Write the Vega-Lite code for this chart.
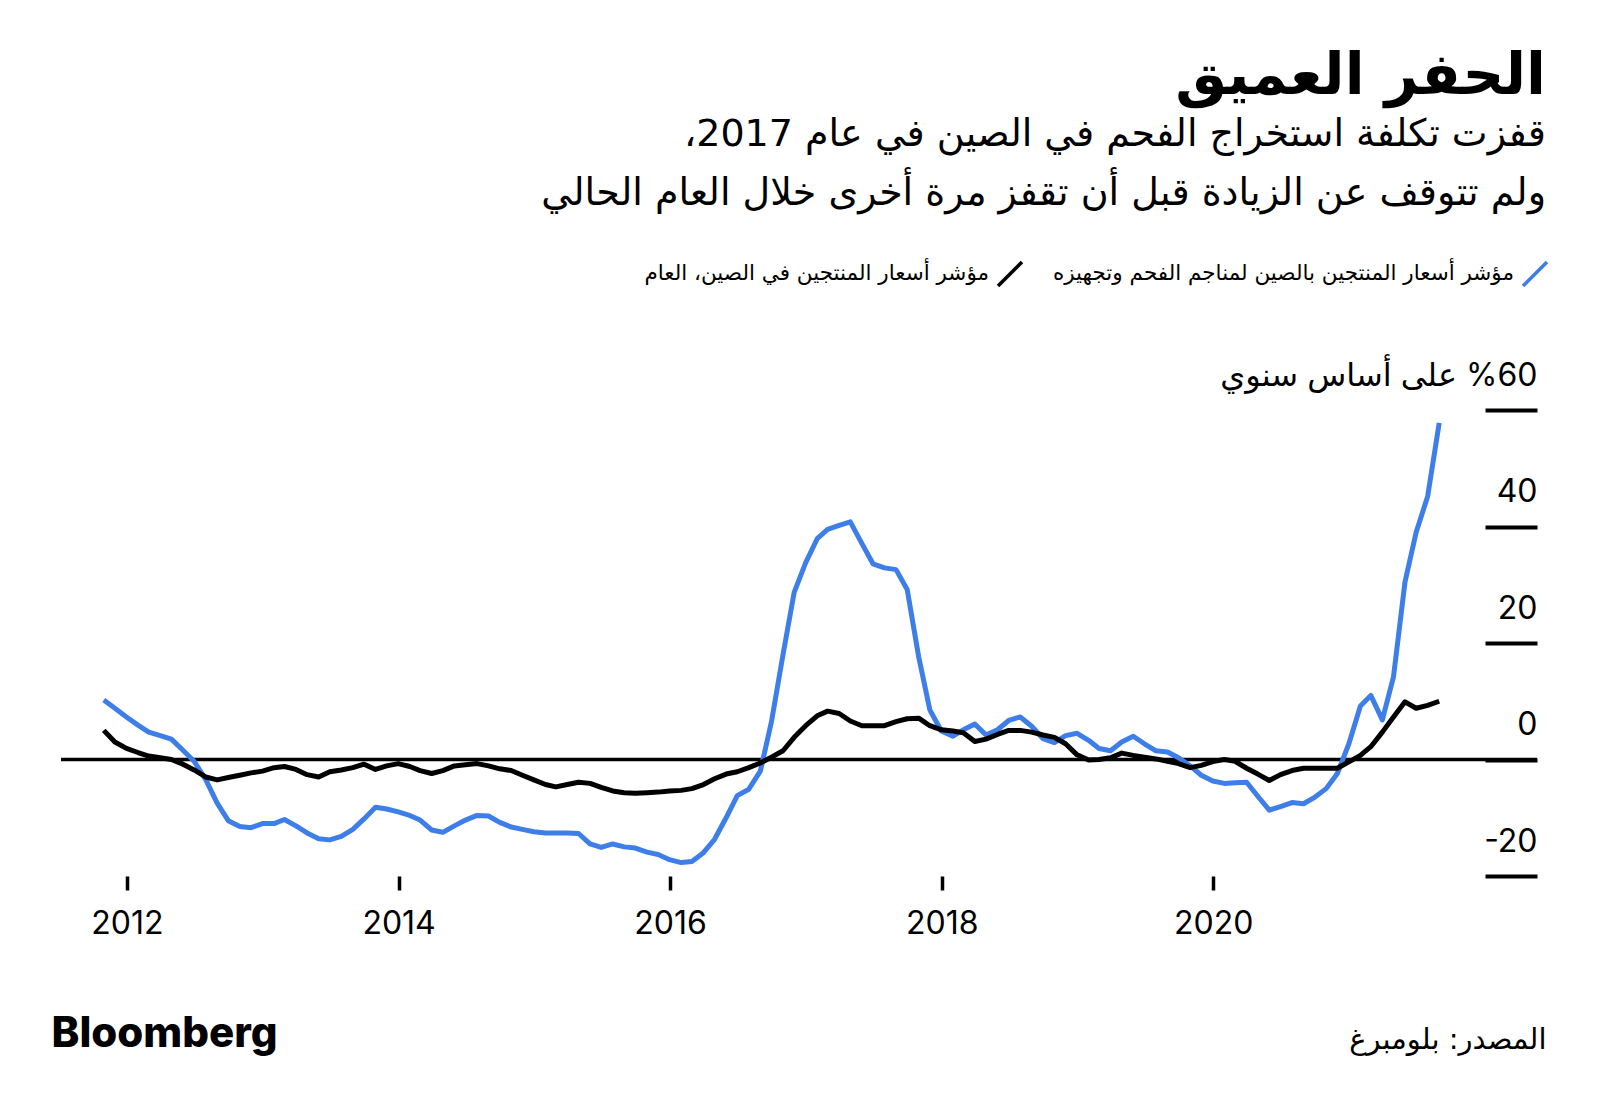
{
  "$schema": "https://vega.github.io/schema/vega-lite/v6.json",
  "width": 1476,
  "height": 466,
  "autosize": {"type": "none"},
  "padding": {"left": 61, "top": 410, "right": 63, "bottom": 236},
  "background": "white",
  "config": {"view": {"stroke": null}, "font": "DejaVu Sans"},
  "title": {
    "text": "الحفر العميق",
    "subtitle": ["\u202Bقفزت تكلفة استخراج الفحم في الصين في عام 2017،\u202C", "ولم تتوقف عن الزيادة قبل أن تقفز مرة أخرى خلال العام الحالي"],
    "anchor": "end",
    "frame": "group",
    "orient": "top",
    "font": "DejaVu Sans",
    "fontSize": 58,
    "fontWeight": "bold",
    "color": "black",
    "subtitleFont": "DejaVu Sans",
    "subtitleFontSize": 38,
    "subtitleColor": "black",
    "subtitleLineHeight": 59,
    "subtitlePadding": 10,
    "offset": 47,
    "dx": 9
  },
  "layer": [
    {
      "data": {"values": [{}]},
      "mark": {"type": "rule", "stroke": "black", "strokeWidth": 3.5},
      "encoding": {"y": {"datum": 0, "type": "quantitative"}}
    },
    {
      "data": {"values": [
        {"date": "2011-10-31", "coal": 10.2, "ppi": 5.0},
        {"date": "2011-11-30", "coal": 8.8, "ppi": 3.0},
        {"date": "2011-12-31", "coal": 7.3, "ppi": 1.9},
        {"date": "2012-01-31", "coal": 5.9, "ppi": 1.2},
        {"date": "2012-02-29", "coal": 4.7, "ppi": 0.6},
        {"date": "2012-03-31", "coal": 4.1, "ppi": 0.3},
        {"date": "2012-04-30", "coal": 3.5, "ppi": 0.0},
        {"date": "2012-05-31", "coal": 1.6, "ppi": -0.8},
        {"date": "2012-06-30", "coal": -0.3, "ppi": -1.8},
        {"date": "2012-07-31", "coal": -3.4, "ppi": -3.0},
        {"date": "2012-08-31", "coal": -7.5, "ppi": -3.5},
        {"date": "2012-09-30", "coal": -10.5, "ppi": -3.1},
        {"date": "2012-10-31", "coal": -11.5, "ppi": -2.7},
        {"date": "2012-11-30", "coal": -11.7, "ppi": -2.3},
        {"date": "2012-12-31", "coal": -11.0, "ppi": -2.0},
        {"date": "2013-01-31", "coal": -11.0, "ppi": -1.4},
        {"date": "2013-02-28", "coal": -10.3, "ppi": -1.2},
        {"date": "2013-03-31", "coal": -11.4, "ppi": -1.7},
        {"date": "2013-04-30", "coal": -12.6, "ppi": -2.6},
        {"date": "2013-05-31", "coal": -13.6, "ppi": -3.0},
        {"date": "2013-06-30", "coal": -13.8, "ppi": -2.1},
        {"date": "2013-07-31", "coal": -13.2, "ppi": -1.8},
        {"date": "2013-08-31", "coal": -12.0, "ppi": -1.4},
        {"date": "2013-09-30", "coal": -10.2, "ppi": -0.8},
        {"date": "2013-10-31", "coal": -8.2, "ppi": -1.7},
        {"date": "2013-11-30", "coal": -8.5, "ppi": -1.1},
        {"date": "2013-12-31", "coal": -9.0, "ppi": -0.7},
        {"date": "2014-01-31", "coal": -9.6, "ppi": -1.2},
        {"date": "2014-02-28", "coal": -10.4, "ppi": -1.9},
        {"date": "2014-03-31", "coal": -12.1, "ppi": -2.4},
        {"date": "2014-04-30", "coal": -12.5, "ppi": -1.9},
        {"date": "2014-05-31", "coal": -11.4, "ppi": -1.1},
        {"date": "2014-06-30", "coal": -10.4, "ppi": -0.9},
        {"date": "2014-07-31", "coal": -9.6, "ppi": -0.7},
        {"date": "2014-08-31", "coal": -9.7, "ppi": -1.1},
        {"date": "2014-09-30", "coal": -10.8, "ppi": -1.6},
        {"date": "2014-10-31", "coal": -11.6, "ppi": -1.9},
        {"date": "2014-11-30", "coal": -12.0, "ppi": -2.7},
        {"date": "2014-12-31", "coal": -12.4, "ppi": -3.5},
        {"date": "2015-01-31", "coal": -12.6, "ppi": -4.3},
        {"date": "2015-02-28", "coal": -12.6, "ppi": -4.7},
        {"date": "2015-03-31", "coal": -12.6, "ppi": -4.3},
        {"date": "2015-04-30", "coal": -12.7, "ppi": -3.9},
        {"date": "2015-05-31", "coal": -14.5, "ppi": -4.1},
        {"date": "2015-06-30", "coal": -15.1, "ppi": -4.8},
        {"date": "2015-07-31", "coal": -14.5, "ppi": -5.4},
        {"date": "2015-08-31", "coal": -15.0, "ppi": -5.7},
        {"date": "2015-09-30", "coal": -15.2, "ppi": -5.8},
        {"date": "2015-10-31", "coal": -15.9, "ppi": -5.7},
        {"date": "2015-11-30", "coal": -16.3, "ppi": -5.6},
        {"date": "2015-12-31", "coal": -17.2, "ppi": -5.4},
        {"date": "2016-01-31", "coal": -17.7, "ppi": -5.3},
        {"date": "2016-02-29", "coal": -17.5, "ppi": -5.0},
        {"date": "2016-03-31", "coal": -16.0, "ppi": -4.3},
        {"date": "2016-04-30", "coal": -13.7, "ppi": -3.3},
        {"date": "2016-05-31", "coal": -10.0, "ppi": -2.5},
        {"date": "2016-06-30", "coal": -6.2, "ppi": -2.1},
        {"date": "2016-07-31", "coal": -5.1, "ppi": -1.4},
        {"date": "2016-08-31", "coal": -2.0, "ppi": -0.6},
        {"date": "2016-09-30", "coal": 6.5, "ppi": 0.4},
        {"date": "2016-10-31", "coal": 18.0, "ppi": 1.5},
        {"date": "2016-11-30", "coal": 28.7, "ppi": 3.8},
        {"date": "2016-12-31", "coal": 33.8, "ppi": 5.8},
        {"date": "2017-01-31", "coal": 37.9, "ppi": 7.5},
        {"date": "2017-02-28", "coal": 39.5, "ppi": 8.3},
        {"date": "2017-03-31", "coal": 40.2, "ppi": 7.9},
        {"date": "2017-04-30", "coal": 40.8, "ppi": 6.6},
        {"date": "2017-05-31", "coal": 37.1, "ppi": 5.8},
        {"date": "2017-06-30", "coal": 33.6, "ppi": 5.8},
        {"date": "2017-07-31", "coal": 32.9, "ppi": 5.8},
        {"date": "2017-08-31", "coal": 32.6, "ppi": 6.5},
        {"date": "2017-09-30", "coal": 29.2, "ppi": 7.0},
        {"date": "2017-10-31", "coal": 17.6, "ppi": 7.1},
        {"date": "2017-11-30", "coal": 8.5, "ppi": 5.8},
        {"date": "2017-12-31", "coal": 4.9, "ppi": 5.1},
        {"date": "2018-01-31", "coal": 4.0, "ppi": 4.9},
        {"date": "2018-02-28", "coal": 5.1, "ppi": 4.6},
        {"date": "2018-03-31", "coal": 6.1, "ppi": 3.1},
        {"date": "2018-04-30", "coal": 4.2, "ppi": 3.5},
        {"date": "2018-05-31", "coal": 5.1, "ppi": 4.3},
        {"date": "2018-06-30", "coal": 6.7, "ppi": 5.0},
        {"date": "2018-07-31", "coal": 7.3, "ppi": 5.0},
        {"date": "2018-08-31", "coal": 5.7, "ppi": 4.7},
        {"date": "2018-09-30", "coal": 3.6, "ppi": 4.2},
        {"date": "2018-10-31", "coal": 2.9, "ppi": 3.8},
        {"date": "2018-11-30", "coal": 4.1, "ppi": 2.7},
        {"date": "2018-12-31", "coal": 4.5, "ppi": 0.8},
        {"date": "2019-01-31", "coal": 3.3, "ppi": -0.1},
        {"date": "2019-02-28", "coal": 1.9, "ppi": 0.0},
        {"date": "2019-03-31", "coal": 1.5, "ppi": 0.3},
        {"date": "2019-04-30", "coal": 3.0, "ppi": 1.1},
        {"date": "2019-05-31", "coal": 4.0, "ppi": 0.7},
        {"date": "2019-06-30", "coal": 2.7, "ppi": 0.4},
        {"date": "2019-07-31", "coal": 1.5, "ppi": 0.1},
        {"date": "2019-08-31", "coal": 1.3, "ppi": -0.3},
        {"date": "2019-09-30", "coal": 0.3, "ppi": -0.7},
        {"date": "2019-10-31", "coal": -1.1, "ppi": -1.4},
        {"date": "2019-11-30", "coal": -2.7, "ppi": -1.0},
        {"date": "2019-12-31", "coal": -3.7, "ppi": -0.35},
        {"date": "2020-01-31", "coal": -4.1, "ppi": 0.0},
        {"date": "2020-02-29", "coal": -4.0, "ppi": -0.3},
        {"date": "2020-03-31", "coal": -3.9, "ppi": -1.5},
        {"date": "2020-04-30", "coal": -6.3, "ppi": -2.5},
        {"date": "2020-05-31", "coal": -8.7, "ppi": -3.6},
        {"date": "2020-06-30", "coal": -8.1, "ppi": -2.6},
        {"date": "2020-07-31", "coal": -7.4, "ppi": -1.9},
        {"date": "2020-08-31", "coal": -7.6, "ppi": -1.5},
        {"date": "2020-09-30", "coal": -6.5, "ppi": -1.5},
        {"date": "2020-10-31", "coal": -5.0, "ppi": -1.5},
        {"date": "2020-11-30", "coal": -2.4, "ppi": -1.5},
        {"date": "2020-12-31", "coal": 2.7, "ppi": -0.4},
        {"date": "2021-01-31", "coal": 9.2, "ppi": 0.7},
        {"date": "2021-02-28", "coal": 11.0, "ppi": 2.2},
        {"date": "2021-03-31", "coal": 6.8, "ppi": 4.7},
        {"date": "2021-04-30", "coal": 14.2, "ppi": 7.3},
        {"date": "2021-05-31", "coal": 30.5, "ppi": 9.9},
        {"date": "2021-06-30", "coal": 39.0, "ppi": 8.8},
        {"date": "2021-07-31", "coal": 45.2, "ppi": 9.3},
        {"date": "2021-08-31", "coal": 57.8, "ppi": 10.0}
      ]},
      "transform": [{"fold": ["coal", "ppi"], "as": ["series", "value"]}],
      "mark": {"type": "line", "strokeWidth": 5, "strokeJoin": "round"},
      "encoding": {
        "x": {
          "field": "date",
          "type": "temporal",
          "scale": {"type": "utc", "domain": [{"year": 2011, "month": 7, "date": 8, "utc": true}, {"year": 2022, "month": 5, "date": 21, "utc": true}]},
          "axis": {
            "values": [{"year": 2012, "month": 1, "date": 1, "utc": true}, {"year": 2014, "month": 1, "date": 1, "utc": true}, {"year": 2016, "month": 1, "date": 1, "utc": true}, {"year": 2018, "month": 1, "date": 1, "utc": true}, {"year": 2020, "month": 1, "date": 1, "utc": true}],
            "labelExpr": "utcFormat(datum.value, '%Y')",
            "domain": false,
            "grid": false,
            "tickSize": 14,
            "tickWidth": 3.5,
            "tickColor": "black",
            "labelFont": "Inter",
            "labelFontSize": 32,
            "labelColor": "black",
            "labelPadding": 18,
            "labelFlush": false,
            "labelOverlap": false,
            "title": "المصدر: بلومبرغ",
            "titleX": 1485,
            "titleY": 172,
            "titleAlign": "right",
            "titleBaseline": "alphabetic",
            "titleFont": "DejaVu Sans",
            "titleFontSize": 29,
            "titleFontWeight": "normal",
            "titleColor": "black"
          }
        },
        "y": {
          "field": "value",
          "type": "quantitative",
          "scale": {"domain": [-20, 60]},
          "axis": {
            "orient": "right",
            "values": [-20, 0, 20, 40, 60],
            "labelExpr": "datum.value == 60 ? '\u202B%60 على أساس سنوي\u202C' : '' + datum.value",
            "domain": false,
            "grid": false,
            "tickSize": -52,
            "tickWidth": 4,
            "tickColor": "black",
            "labelPadding": 52,
            "labelAlign": "right",
            "labelBaseline": "alphabetic",
            "labelOffset": -25,
            "labelFont": "Inter, DejaVu Sans",
            "labelFontSize": 32,
            "labelColor": "black",
            "labelFlush": false,
            "labelOverlap": false,
            "labelBound": false,
            "labelLimit": 600,
            "title": "Bloomberg",
            "titleAngle": 0,
            "titleX": -1486,
            "titleY": 636,
            "titleAlign": "left",
            "titleBaseline": "alphabetic",
            "titleFont": "Inter",
            "titleFontSize": 42,
            "titleFontWeight": 800,
            "titleColor": "black"
          }
        },
        "color": {
          "field": "series",
          "type": "nominal",
          "scale": {"domain": ["ppi", "coal"], "range": ["#000000", "#3d7ee8"]},
          "legend": {
            "orient": "none",
            "legendX": 935,
            "legendY": -150,
            "direction": "horizontal",
            "title": null,
            "padding": 0,
            "symbolType": "M-1,1L1,-1",
            "symbolSize": 576,
            "symbolStrokeWidth": 3.5,
            "labelAlign": "right",
            "labelOffset": -35,
            "labelFont": "DejaVu Sans",
            "labelFontSize": 21.5,
            "labelColor": "black",
            "labelLimit": 800,
            "columnPadding": 23,
            "labelExpr": "datum.value == 'coal' ? 'مؤشر أسعار المنتجين بالصين لمناجم الفحم وتجهيزه' : 'مؤشر أسعار المنتجين في الصين، العام'"
          }
        }
      }
    }
  ]
}
